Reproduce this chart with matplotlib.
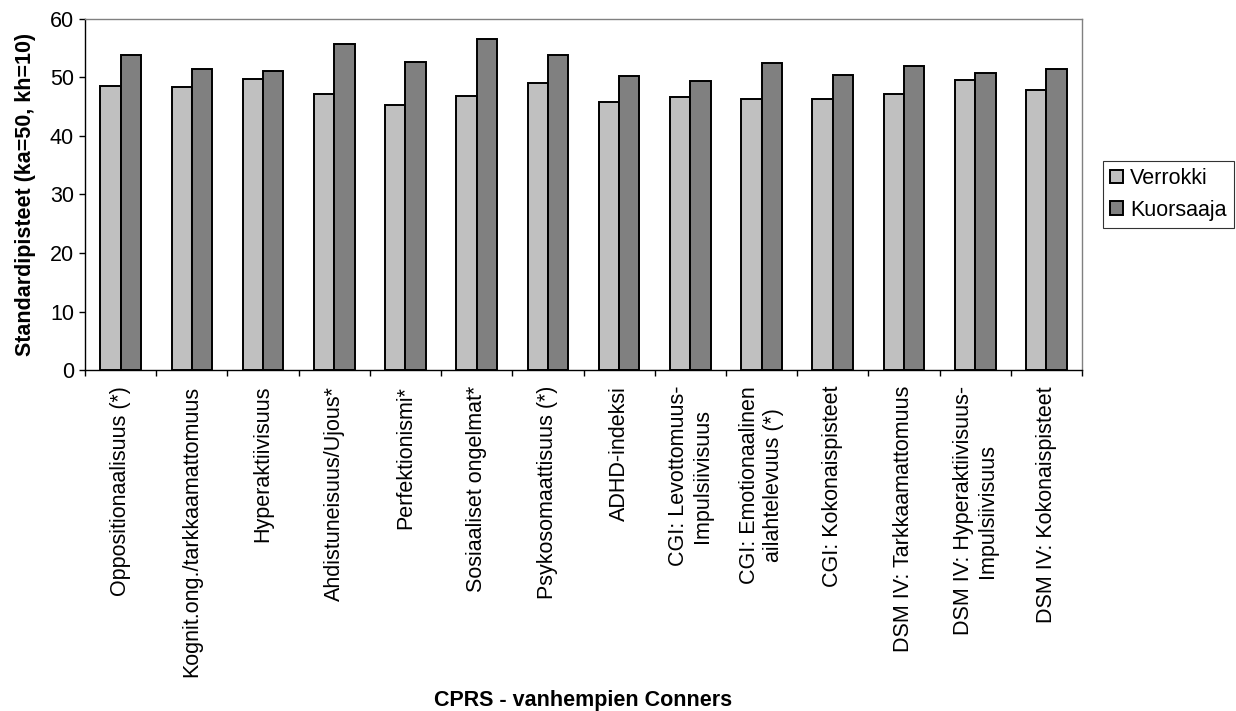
import matplotlib
matplotlib.use("Agg")
import matplotlib.pyplot as plt
import numpy as np

categories = [
    "Oppositionaalisuus (*)",
    "Kognit.ong./tarkkaamattomuus",
    "Hyperaktiivisuus",
    "Ahdistuneisuus/Ujous*",
    "Perfektionismi*",
    "Sosiaaliset ongelmat*",
    "Psykosomaattisuus (*)",
    "ADHD-indeksi",
    "CGI: Levottomuus-\nImpulsiivisuus",
    "CGI: Emotionaalinen\nailahtelevuus (*)",
    "CGI: Kokonaispisteet",
    "DSM IV: Tarkkaamattomuus",
    "DSM IV: Hyperaktiivisuus-\nImpulsiivisuus",
    "DSM IV: Kokonaispisteet",
]
verrokki = [48.6, 48.3, 49.7, 47.1, 45.3, 46.9, 49.1, 45.8, 46.6, 46.4, 46.4, 47.2, 49.5, 47.9]
kuorsaaja = [53.9, 51.4, 51.1, 55.7, 52.6, 56.5, 53.9, 50.2, 49.4, 52.5, 50.5, 52.0, 50.7, 51.4]

plt.rcParams["font.family"] = ["Liberation Sans", "DejaVu Sans"]
fs = 15.5

fig = plt.figure(figsize=(12.36, 7.11), dpi=100)
ax = fig.add_axes([0.0688, 0.4796, 0.8066, 0.4937])

x = np.arange(len(categories))
w = 1 / 3.5
ax.bar(x - w / 2, verrokki, w, color="#c0c0c0", edgecolor="black", linewidth=1.4, label="Verrokki")
ax.bar(x + w / 2, kuorsaaja, w, color="#808080", edgecolor="black", linewidth=1.4, label="Kuorsaaja")

ax.set_xlim(-0.5, len(categories) - 0.5)
ax.set_ylim(0, 60)
ax.set_yticks(range(0, 61, 10))
ax.tick_params(axis="y", labelsize=fs, length=4.5, width=1, direction="out", pad=3.5)

# ticks sit between the groups, labels at group centres
ax.set_xticks(np.arange(-0.5, len(categories), 1), minor=False)
ax.set_xticklabels([])
ax.tick_params(axis="x", which="major", length=4.5, width=1, direction="out")
ax.set_xticks(x, minor=True)
ax.set_xticklabels(categories, minor=True, rotation=90, fontsize=fs,
                   ha="center", va="top", multialignment="center")
ax.tick_params(axis="x", which="minor", length=0, pad=11.5)

for side in ["top", "right"]:
    ax.spines[side].set_color("#808080")
    ax.spines[side].set_linewidth(1)
for side in ["left", "bottom"]:
    ax.spines[side].set_color("black")
    ax.spines[side].set_linewidth(1)

ax.set_ylabel("Standardipisteet (ka=50, kh=10)", fontsize=fs, fontweight="bold", labelpad=10)
fig.text(0.4721, 0.0, "CPRS - vanhempien Conners", fontsize=fs, fontweight="bold",
         ha="center", va="bottom")

leg = ax.legend(loc="center left", bbox_to_anchor=(1.021, 0.5), fontsize=fs,
                frameon=True, fancybox=False, edgecolor="black", handlelength=0.6,
                handleheight=0.6, handletextpad=0.3, borderpad=0.35, labelspacing=0.5,
                borderaxespad=0)
leg.get_frame().set_linewidth(0.8)

fig.savefig("out.png", dpi=100)
